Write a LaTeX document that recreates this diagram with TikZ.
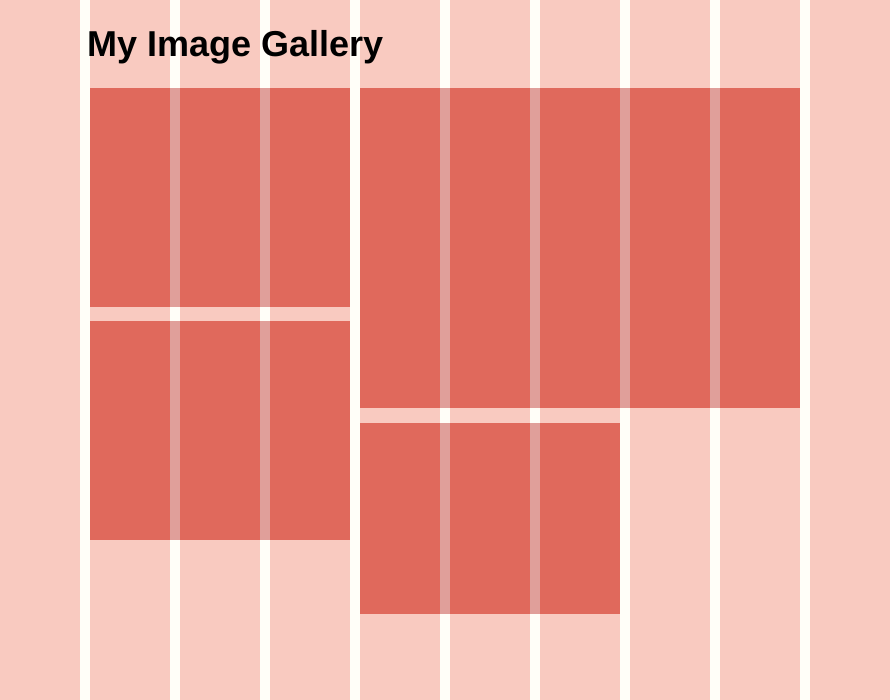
\documentclass[tikz,border=0pt]{standalone}
\usepackage{fontspec}
\setmainfont{Liberation Sans}
\definecolor{pagebg}{HTML}{FFFEF8}
\definecolor{colpink}{HTML}{F9CAC0}
\definecolor{cardred}{HTML}{E0695C}
\definecolor{gapred}{HTML}{E09F9A}
\begin{document}
\begin{tikzpicture}[x=1pt, y=-1pt,
    col/.style={fill=colpink},
    card/.style={fill=cardred},
    gap/.style={fill=gapred}]
  % page background fixes the margins
  \fill[pagebg] (0,0) rectangle (890,700);
  % draw the ten grid columns
  \fill[col] (0,0) rectangle (80,700);
  \fill[col] (90,0) rectangle (170,700);
  \fill[col] (180,0) rectangle (260,700);
  \fill[col] (270,0) rectangle (350,700);
  \fill[col] (360,0) rectangle (440,700);
  \fill[col] (450,0) rectangle (530,700);
  \fill[col] (540,0) rectangle (620,700);
  \fill[col] (630,0) rectangle (710,700);
  \fill[col] (720,0) rectangle (800,700);
  \fill[col] (810,0) rectangle (890,700);
  % title
  \node[anchor=base west, inner sep=0pt, font=\bfseries\fontsize{36}{40}\selectfont] (gallery_title) at (87,57) {My Image Gallery};
  % draw the gallery cards
  \fill[card] (90,88) rectangle (350,307);
  \fill[card] (90,321) rectangle (350,540);
  \fill[card] (360,88) rectangle (800,408);
  \fill[card] (360,423) rectangle (620,614);
  % draw the gutters that show through the cards
  \fill[gap] (170,88) rectangle (180,307);
  \fill[gap] (260,88) rectangle (270,307);
  \fill[gap] (170,321) rectangle (180,540);
  \fill[gap] (260,321) rectangle (270,540);
  \fill[gap] (440,88) rectangle (450,408);
  \fill[gap] (530,88) rectangle (540,408);
  \fill[gap] (620,88) rectangle (630,408);
  \fill[gap] (710,88) rectangle (720,408);
  \fill[gap] (440,423) rectangle (450,614);
  \fill[gap] (530,423) rectangle (540,614);
\end{tikzpicture}
\end{document}
